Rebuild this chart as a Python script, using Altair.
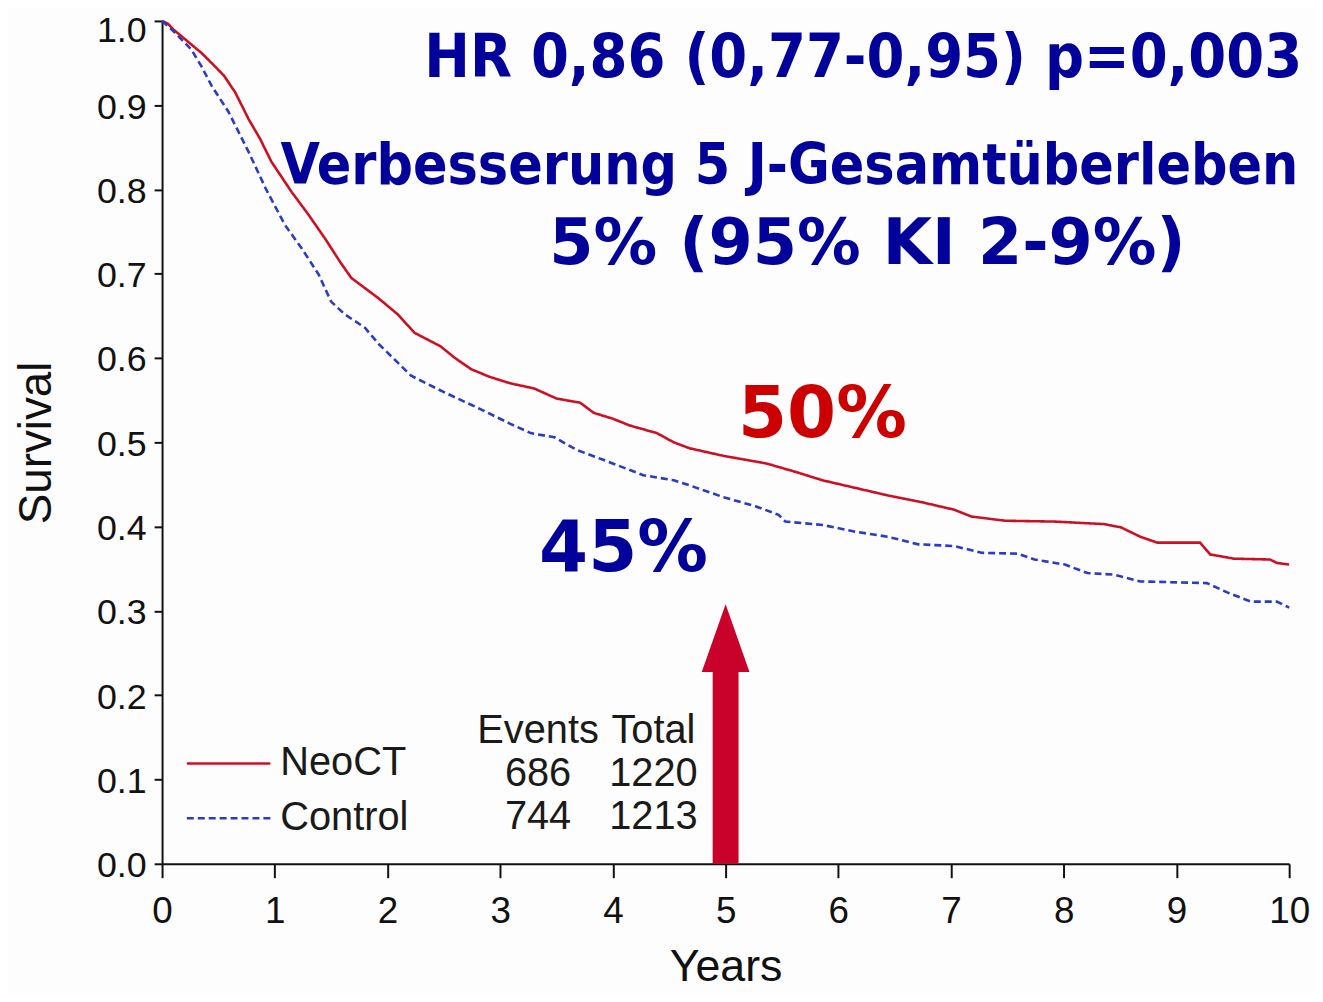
import altair as alt
import pandas as pd

# ---------------- data ----------------
SERIES = ["NeoCT", "Control"]
SERIES_COLORS = ["#cc1023", "#2b3cc0"]
SERIES_DASH = [[1, 0], [7, 4]]

YEARS_NEO = [0, 0.05, 0.10, 0.26, 0.35, 0.44, 0.55, 0.65, 0.77, 0.87, 0.97, 1.06,
             1.15, 1.30, 1.45, 1.58, 1.68, 1.80, 1.92, 2.09, 2.24, 2.47, 2.60, 2.74,
             2.90, 3.09, 3.30, 3.50, 3.71, 3.83, 4.00, 4.15, 4.39, 4.54, 4.68, 4.98,
             5.36, 5.62, 5.86, 6.15, 6.44, 6.74, 7.03, 7.18, 7.48, 7.92, 8.36, 8.51,
             8.68, 8.83, 9.21, 9.30, 9.51, 9.83, 9.89, 10.0]
SURV_NEO = [1.0, 0.997, 0.990, 0.972, 0.962, 0.950, 0.935, 0.915, 0.883, 0.860, 0.833, 0.815,
            0.797, 0.770, 0.741, 0.714, 0.695, 0.683, 0.671, 0.652, 0.630, 0.614, 0.600, 0.587,
            0.578, 0.570, 0.564, 0.552, 0.547, 0.535, 0.528, 0.520, 0.511, 0.500, 0.493, 0.484,
            0.475, 0.465, 0.455, 0.446, 0.437, 0.429, 0.420, 0.412, 0.407, 0.406, 0.403, 0.399,
            0.388, 0.381, 0.381, 0.367, 0.362, 0.361, 0.357, 0.355]

YEARS_CTRL = [0, 0.10, 0.26, 0.35, 0.44, 0.59, 0.77, 0.92, 1.09, 1.24, 1.39, 1.50,
              1.62, 1.80, 1.92, 2.21, 2.51, 2.80, 3.09, 3.27, 3.48, 3.68, 3.92, 4.27,
              4.54, 4.68, 4.98, 5.27, 5.47, 5.53, 5.86, 6.15, 6.44, 6.71, 7.03, 7.27,
              7.59, 7.74, 8.01, 8.21, 8.45, 8.68, 9.27, 9.45, 9.66, 9.89, 10.0]
SURV_CTRL = [1.0, 0.988, 0.966, 0.946, 0.923, 0.892, 0.844, 0.801, 0.758, 0.730, 0.699, 0.667,
             0.652, 0.636, 0.617, 0.579, 0.559, 0.541, 0.522, 0.511, 0.506, 0.491, 0.479, 0.461,
             0.455, 0.449, 0.435, 0.424, 0.414, 0.406, 0.402, 0.394, 0.388, 0.379, 0.377, 0.369,
             0.368, 0.361, 0.355, 0.345, 0.343, 0.335, 0.333, 0.322, 0.311, 0.311, 0.304]

EVENTS = [686, 744]
TOTALS = [1220, 1213]
TABLE_HEADERS = ["Events", "Total"]

X_TICKS = list(range(0, 11))
Y_TICKS = [round(i * 0.1, 1) for i in range(11)]

HEADLINE = ["HR 0,86 (0,77-0,95) p=0,003",
            "Verbesserung 5 J-Gesamtüberleben",
            "5% (95% KI 2-9%)"]
PCT_LABELS = ["50%", "45%"]
ARROW_YEAR = 5

# ---------------- styling / layout constants ----------------
NAVY = "#02029a"
RED_TXT = "#cc0000"
ARROW_COLOR = "#c8022b"
AX = "#111111"
SANS = "Liberation Sans"

curves = pd.DataFrame(
    {"year": YEARS_NEO + YEARS_CTRL,
     "surv": SURV_NEO + SURV_CTRL,
     "series": [SERIES[0]] * len(YEARS_NEO) + [SERIES[1]] * len(YEARS_CTRL)}
)

x_scale = alt.Scale(domain=[0, 10], nice=False, zero=False)
y_scale = alt.Scale(domain=[0, 1], nice=False)
color = alt.Color("series:N", scale=alt.Scale(domain=SERIES, range=SERIES_COLORS), legend=None)
dash = alt.StrokeDash("series:N", scale=alt.Scale(domain=SERIES, range=SERIES_DASH), legend=None)

lines = alt.Chart(curves).mark_line(strokeWidth=2.6).encode(
    x=alt.X("year:Q", scale=x_scale,
            axis=alt.Axis(values=X_TICKS, format="d", title="Years", labelFlush=False)),
    y=alt.Y("surv:Q", scale=y_scale,
            axis=alt.Axis(values=Y_TICKS, format=".1f", title="Survival", labelFlush=False,
                          labelOffset={"condition": {"test": "datum.value > 0.95", "value": 10},
                                       "value": 2})),
    color=color,
    strokeDash=dash,
    order="year:Q",
)

# legend (drawn with the same colour / dash scales)
leg_df = pd.DataFrame({"series": SERIES, "year": [0.22, 0.22], "year2": [0.961, 0.961],
                       "surv": [0.119, 0.054]})
leg_lines = alt.Chart(leg_df).mark_rule(strokeWidth=2.6).encode(
    x="year:Q", x2="year2:Q", y="surv:Q", color=color, strokeDash=dash)
leg_df_txt = pd.DataFrame({"label": SERIES, "year": [1.049, 1.049], "surv": [0.119, 0.054]})
leg_text = alt.Chart(leg_df_txt).mark_text(
    align="left", baseline="middle", font=SANS, fontSize=40, color="#1a1a1a").encode(
    x="year:Q", y="surv:Q", text="label:N")

# events / total table
tab_rows = []
for i, h in enumerate(TABLE_HEADERS):
    tab_rows.append({"label": h, "year": [3.336, 4.36][i], "surv": 0.158})
for r, (ev, tot) in enumerate(zip(EVENTS, TOTALS)):
    yy = [0.107, 0.056][r]
    tab_rows.append({"label": str(ev), "year": 3.336, "surv": yy})
    tab_rows.append({"label": str(tot), "year": 4.36, "surv": yy})
table = alt.Chart(pd.DataFrame(tab_rows)).mark_text(
    align="center", baseline="middle", font=SANS, fontSize=40, color="#1a1a1a").encode(
    x="year:Q", y="surv:Q", text="label:N")

# arrow at year 5
shaft_df = pd.DataFrame({"year": [ARROW_YEAR], "surv": [0.0], "surv2": [0.2276]})
shaft = alt.Chart(shaft_df).mark_rule(strokeWidth=26, color=ARROW_COLOR, strokeCap="butt").encode(
    x="year:Q", y="surv:Q", y2="surv2:Q")
head_df = pd.DataFrame({"year": [ARROW_YEAR], "surv": [0.2677]})
head = alt.Chart(head_df).mark_point(
    shape="M0,-1L0.706,1L-0.706,1Z", filled=True, size=4624, color=ARROW_COLOR,
    opacity=1, strokeWidth=0).encode(x="year:Q", y="surv:Q")

# headline texts
h1 = pd.DataFrame({"label": [HEADLINE[0]], "year": [10.115], "surv": [0.933]})
head1 = alt.Chart(h1).mark_text(
    align="right", baseline="alphabetic", font="DejaVu Sans Condensed", fontWeight="bold",
    fontSize=61, color=NAVY).encode(x="year:Q", y="surv:Q", text="label:N")
h2 = pd.DataFrame({"label": [HEADLINE[1]], "year": [1.05], "surv": [0.807]})
head2 = alt.Chart(h2).mark_text(
    align="left", baseline="alphabetic", font="DejaVu Sans Condensed", fontWeight="bold",
    fontSize=57, color=NAVY).encode(x="year:Q", y="surv:Q", text="label:N")
h3 = pd.DataFrame({"label": [HEADLINE[2]], "year": [6.258], "surv": [0.712]})
head3 = alt.Chart(h3).mark_text(
    align="center", baseline="alphabetic", font="DejaVu Sans", fontWeight="bold",
    fontSize=64, color=NAVY).encode(x="year:Q", y="surv:Q", text="label:N")

p50 = alt.Chart(pd.DataFrame({"label": [PCT_LABELS[0]], "year": [5.11], "surv": [0.506]})).mark_text(
    align="left", baseline="alphabetic", font="DejaVu Sans", fontWeight="bold",
    fontSize=71, color=RED_TXT).encode(x="year:Q", y="surv:Q", text="label:N")
p45 = alt.Chart(pd.DataFrame({"label": [PCT_LABELS[1]], "year": [3.345], "surv": [0.347]})).mark_text(
    align="left", baseline="alphabetic", font="DejaVu Sans", fontWeight="bold",
    fontSize=71, color=NAVY).encode(x="year:Q", y="surv:Q", text="label:N")

chart = alt.layer(lines, leg_lines, leg_text, table, shaft, head, head1, head2, head3, p50, p45).properties(
    width=1134, height=848,
    autosize=alt.AutoSizeParams(type="none"),
    padding={"left": 155, "top": 10, "right": 26, "bottom": 128},
    background="#fdfdfd",
).configure_axis(
    domainColor=AX, domainWidth=2, tickColor=AX, tickWidth=2,
    labelFont=SANS, labelColor=AX,
    titleFont=SANS, titleFontWeight="normal", titleColor=AX,
    grid=False, zindex=1,
).configure_axisX(
    tickSize=14, labelPadding=16, titlePadding=15, labelFontSize=37, titleFontSize=45,
).configure_axisY(
    tickSize=8, labelPadding=8, titlePadding=36, labelFontSize=36, titleFontSize=46,
).configure_view(stroke=None)

chart.save("out.html", embed_options={"renderer": "svg", "actions": False})
